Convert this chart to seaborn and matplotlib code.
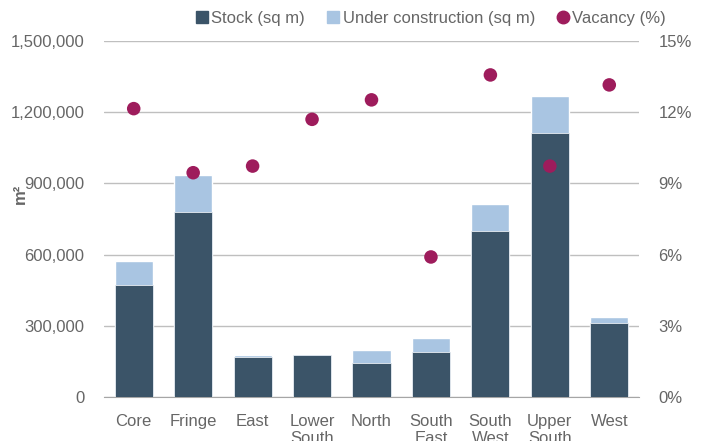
import matplotlib
matplotlib.use("Agg")
import matplotlib.pyplot as plt
import seaborn as sns
import pandas as pd
from matplotlib.ticker import FuncFormatter, FixedLocator
from matplotlib.lines import Line2D

#%% Dados
regioes = ["Core", "Fringe", "East", "Lower\nSouth", "North",
           "South\nEast", "South\nWest", "Upper\nSouth", "West"]
stock = [472000, 780000, 170000, 176000, 142000, 191000, 701000, 1111000, 312000]
em_construcao = [102000, 155000, 7000, 4000, 56000, 56000, 112000, 158000, 25000]
vacancia = [12.15, 9.45, 9.73, 11.7, 12.52, 5.9, 13.57, 9.73, 13.15]

cor_stock = "#3B5468"
cor_const = "#A9C5E2"
cor_vac = "#9E1C5C"
cor_texto = "#666666"

df = pd.DataFrame({"regiao": regioes, "stock": stock, "const": em_construcao, "vac": vacancia})
df["total"] = df["stock"] + df["const"]

sns.set_style("white")
plt.rcParams["font.family"] = ["Liberation Sans", "DejaVu Sans"]

fig = plt.figure(figsize=(7.02, 4.41), dpi=100)
ax = fig.add_axes([104 / 702, 1 - 397 / 441, 535 / 702, 356 / 441])

# Barras empilhadas (total atrás, stock na frente)
sns.barplot(data=df, x="regiao", y="total", color=cor_const, width=0.64,
            saturation=1, ax=ax, zorder=2)
sns.barplot(data=df, x="regiao", y="stock", color=cor_stock, width=0.64,
            saturation=1, ax=ax, zorder=3, edgecolor="#E8EEF4", linewidth=0.6)

ax.set_ylim(0, 1500000)
ax.set_xlim(-0.5, len(regioes) - 0.5)
ax.set_yticks(range(0, 1500001, 300000))
ax.yaxis.set_major_formatter(FuncFormatter(lambda v, p: f"{int(v):,}"))
ax.grid(axis="y", color="#BFBFBF", linewidth=1, zorder=0)
ax.set_axisbelow(True)
for s in ["top", "left", "right"]:
    ax.spines[s].set_visible(False)
ax.spines["bottom"].set_color("#A6A6A6")
ax.tick_params(axis="y", length=0, labelsize=12, labelcolor=cor_texto, pad=14)
ax.tick_params(axis="x", which="major", length=0, labelsize=12, labelcolor=cor_texto, pad=12)
ax.xaxis.set_minor_locator(FixedLocator([i - 0.5 for i in range(len(regioes) + 1)]))
ax.tick_params(axis="x", which="minor", length=5, color="#A6A6A6", direction="out")
ax.set_xlabel("")
ax.set_ylabel("m²", fontsize=12, fontweight="bold", color=cor_texto, labelpad=4)
ax.yaxis.set_label_coords(-0.142, 0.57)

# Vacância no eixo secundário
ax2 = ax.twinx()
sns.scatterplot(x=list(range(len(regioes))), y=vacancia, color=cor_vac, s=95,
                edgecolor="none", ax=ax2, zorder=4)
ax2.set_ylim(0, 15)
ax2.set_yticks(range(0, 16, 3))
ax2.yaxis.set_major_formatter(FuncFormatter(lambda v, p: f"{int(v)}%"))
ax2.tick_params(axis="y", length=0, labelsize=12, labelcolor=cor_texto, pad=14)
for s in ["top", "left", "right", "bottom"]:
    ax2.spines[s].set_visible(False)

# Legenda
handles = [
    Line2D([], [], marker="s", linestyle="", color=cor_stock, markersize=8),
    Line2D([], [], marker="s", linestyle="", color=cor_const, markersize=8),
    Line2D([], [], marker="o", linestyle="", color=cor_vac, markersize=9),
]
labels = ["Stock (sq m)", "Under construction (sq m)", "Vacancy (%)"]
fig.legend(handles, labels, loc="center", bbox_to_anchor=(430 / 702, 1 - 18 / 441),
           ncol=3, frameon=False, fontsize=12, labelcolor=cor_texto,
           handletextpad=0.05, columnspacing=1.2, handlelength=1)

fig.savefig("out.png", dpi=100)
